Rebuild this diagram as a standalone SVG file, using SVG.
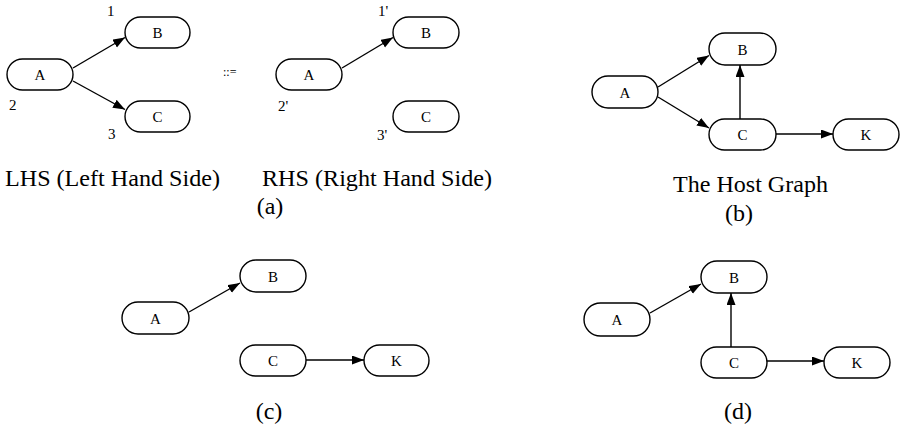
<svg xmlns="http://www.w3.org/2000/svg" width="901" height="425" viewBox="0 0 901 425">
<defs>
<style>
.n rect{fill:#fff;stroke:#000;stroke-width:1.4}
.n text{font-size:15px;text-anchor:middle;fill:#000}
.e line{stroke:#000;stroke-width:1.4;marker-end:url(#ah)}
.lbl{font-size:15px;fill:#000}
.cap{font-size:24px;fill:#000}
.mid{text-anchor:middle}
</style>
<marker id="ah" markerUnits="userSpaceOnUse" markerWidth="13" markerHeight="10" refX="12" refY="4.5" orient="auto">
<path d="M0,0 L12,4.5 L0,9 z" fill="#000"/>
</marker>
</defs>
<g font-family="'Liberation Serif', serif">
<!-- (a) LHS -->
<g id="lhs-A" class="n"><rect x="7" y="59" width="66" height="31" rx="15.5"/><text x="40" y="80">A</text></g>
<g id="lhs-B" class="n"><rect x="125" y="17" width="65" height="31" rx="15.5"/><text x="157.5" y="38">B</text></g>
<g id="lhs-C" class="n"><rect x="125" y="101" width="65" height="31" rx="15.5"/><text x="157.5" y="122">C</text></g>
<text class="lbl" x="107" y="16">1</text>
<text class="lbl" x="9" y="110">2</text>
<text class="lbl" x="108" y="139">3</text>

<!-- (a) RHS -->
<text class="lbl" x="223" y="76" style="font-size:12px">::=</text>
<g id="rhs-A" class="n"><rect x="276" y="59" width="66" height="31" rx="15.5"/><text x="309" y="80">A</text></g>
<g id="rhs-B" class="n"><rect x="393" y="17" width="66" height="31" rx="15.5"/><text x="426" y="38">B</text></g>
<g id="rhs-C" class="n"><rect x="393" y="101" width="66" height="31" rx="15.5"/><text x="426" y="122">C</text></g>
<text class="lbl" x="378" y="16">1'</text>
<text class="lbl" x="278" y="111">2'</text>
<text class="lbl" x="377" y="140">3'</text>

<!-- (b) host graph -->
<g id="b-A" class="n"><rect x="592" y="76" width="66" height="32" rx="16"/><text x="625" y="97.5">A</text></g>
<g id="b-B" class="n"><rect x="709" y="33" width="67" height="32" rx="16"/><text x="742.5" y="54.5">B</text></g>
<g id="b-C" class="n"><rect x="709" y="119" width="67" height="31" rx="15.5"/><text x="742.5" y="140">C</text></g>
<g id="b-K" class="n"><rect x="833" y="119" width="66" height="31" rx="15.5"/><text x="866" y="140">K</text></g>

<!-- (c) -->
<g id="c-A" class="n"><rect x="122" y="302" width="67" height="32" rx="16"/><text x="155.5" y="323.5">A</text></g>
<g id="c-B" class="n"><rect x="240" y="260" width="66" height="32" rx="16"/><text x="273" y="281.5">B</text></g>
<g id="c-C" class="n"><rect x="240" y="345" width="66" height="31" rx="15.5"/><text x="273" y="366">C</text></g>
<g id="c-K" class="n"><rect x="364" y="345" width="65" height="31" rx="15.5"/><text x="396.5" y="366">K</text></g>

<!-- (d) -->
<g id="d-A" class="n"><rect x="584" y="303" width="66" height="33" rx="16.5"/><text x="617" y="325">A</text></g>
<g id="d-B" class="n"><rect x="701" y="261" width="66" height="32" rx="16"/><text x="734" y="282.5">B</text></g>
<g id="d-C" class="n"><rect x="701" y="347" width="66" height="31" rx="15.5"/><text x="734" y="368">C</text></g>
<g id="d-K" class="n"><rect x="824" y="347" width="66" height="31" rx="15.5"/><text x="857" y="368">K</text></g>

<g id="connectors" class="e">
<line x1="73" y1="68" x2="125" y2="37.5"/>
<line x1="73" y1="81" x2="125" y2="109.5"/>
<line x1="342" y1="68" x2="393" y2="37.5"/>
<line x1="658" y1="87" x2="709" y2="55.5"/>
<line x1="658" y1="97" x2="709" y2="128"/>
<line x1="740" y1="119" x2="740" y2="65"/>
<line x1="776" y1="134" x2="833" y2="134"/>
<line x1="189" y1="312" x2="240" y2="283"/>
<line x1="306" y1="360" x2="364" y2="360"/>
<line x1="650" y1="313" x2="701" y2="284"/>
<line x1="731" y1="347" x2="731" y2="293"/>
<line x1="767" y1="361" x2="824" y2="361"/>
</g>

<text class="cap" x="5" y="186" textLength="215" lengthAdjust="spacingAndGlyphs">LHS (Left Hand Side)</text>
<text class="cap" x="262" y="186" textLength="230" lengthAdjust="spacingAndGlyphs">RHS (Right Hand Side)</text>
<text class="cap mid" x="270" y="214">(a)</text>
<text class="cap" x="673" y="192" textLength="155" lengthAdjust="spacingAndGlyphs">The Host Graph</text>
<text class="cap mid" x="739" y="221">(b)</text>
<text class="cap mid" x="269" y="419">(c)</text>
<text class="cap mid" x="738" y="419">(d)</text>
</g>
</svg>
